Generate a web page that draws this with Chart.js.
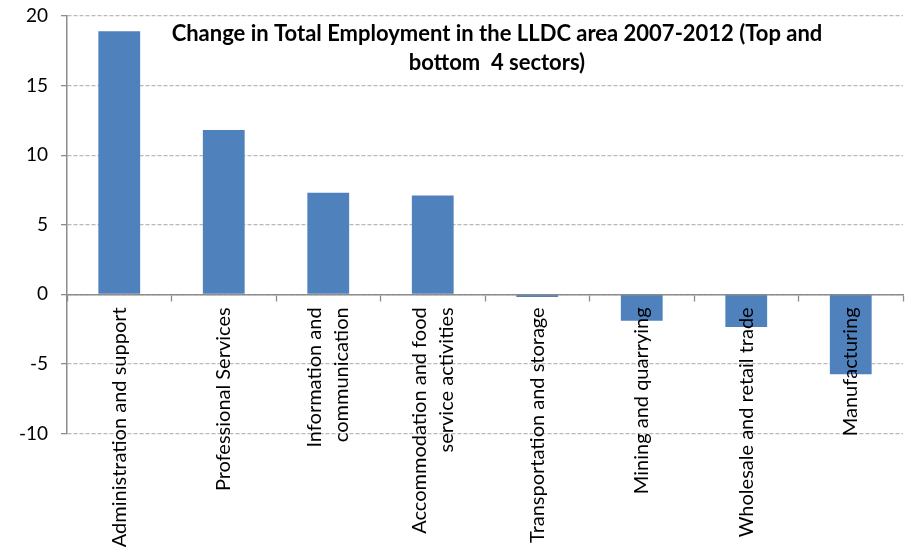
<!DOCTYPE html>
<html>
<head>
<meta charset="utf-8">
<script src="https://cdn.jsdelivr.net/npm/chart.js@4/dist/chart.umd.min.js"></script>
<style>
  html, body { margin: 0; padding: 0; background: #ffffff; }
  #wrap { width: 906px; height: 547px; }
</style>
</head>
<body>
<div id="wrap"><canvas id="chart" width="906" height="547"></canvas></div>
<script>
// Sectors: top four gainers and bottom four losers
const sectors = [
  'Administration and support',
  'Professional Services',
  ['Information and', 'communication'],
  ['Accommodation and food', 'service activities'],
  'Transportation and storage',
  'Mining and quarrying',
  'Wholesale and retail trade',
  'Manufacturing'
];

// Change in employment, 2007-2012
const employmentChange = [18.9, 11.8, 7.3, 7.1, -0.2, -1.9, -2.35, -5.75];

// Value axis range and step
const yMin = -10;
const yMax = 20;
const yStep = 5;

const titleLines = [
  'Change in Total Employment in the LLDC area 2007-2012 (Top and',
  'bottom  4 sectors)'
];

// Chart.js stacks wrapped tick lines to one side of the tick; spread them evenly around it
const centerWrappedLabels = {
  id: 'centerWrappedLabels',
  beforeDraw(chart) {
    const scale = chart.scales.x;
    scale.getLabelItems().forEach(item => {
      if (Array.isArray(item.label) && !item._centered) {
        item.options.translation[0] -= (item.label.length - 1) * item.font.lineHeight / 2;
        item._centered = true;
      }
    });
  }
};

// Title sits inside the plot area, above the bars
const innerTitle = {
  id: 'innerTitle',
  afterDraw(chart) {
    const ctx = chart.ctx;
    ctx.save();
    ctx.font = 'bold 22px Lato';
    ctx.fillStyle = '#000000';
    ctx.textAlign = 'center';
    ctx.textBaseline = 'middle';
    ctx.fillText(titleLines[0], 497, 34);
    ctx.fillText(titleLines[1], 497, 63);
    ctx.restore();
  }
};

new Chart(document.getElementById('chart'), {
  type: 'bar',
  data: {
    labels: sectors,
    datasets: [{
      data: employmentChange,
      backgroundColor: '#4F81BD',
      borderWidth: 0,
      categoryPercentage: 1.0,
      barPercentage: 0.4
    }]
  },
  options: {
    responsive: false,
    animation: false,
    layout: { padding: { left: 0, top: 16, right: 3, bottom: 113.5 } },
    plugins: {
      legend: { display: false },
      title: { display: false },
      tooltip: { enabled: false }
    },
    scales: {
      x: {
        position: { y: 0 },
        offset: true,
        grid: {
          display: true,
          offset: true,
          drawOnChartArea: false,
          drawTicks: true,
          tickLength: 6,
          tickColor: '#8c8c8c',
          tickWidth: 1.3
        },
        border: { display: true, color: '#8c8c8c', width: 1.5, z: 1 },
        ticks: {
          autoSkip: false,
          minRotation: 90,
          maxRotation: 90,
          padding: 7,
          z: 2,
          color: '#000000',
          font: { family: 'Lato', size: 20, lineHeight: 1.33 }
        }
      },
      y: {
        min: yMin,
        max: yMax,
        afterFit(scale) {
          scale.width = 67;
          scale.paddingTop = 8;
          scale.paddingBottom = 8;
        },
        grid: {
          color: '#b9b9b9',
          lineWidth: 1.3,
          drawTicks: true,
          tickLength: 6,
          tickColor: '#8c8c8c'
        },
        border: { display: true, color: '#8c8c8c', width: 1.5, dash: [4, 2] },
        ticks: {
          stepSize: yStep,
          padding: 13,
          color: '#000000',
          font: { family: 'Lato', size: 19 }
        }
      }
    }
  },
  plugins: [centerWrappedLabels, innerTitle]
});
</script>
</body>
</html>
